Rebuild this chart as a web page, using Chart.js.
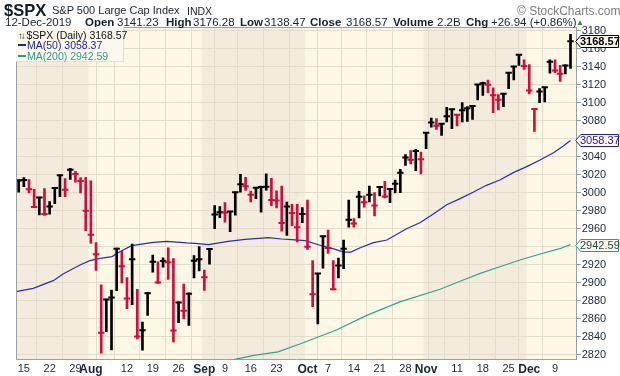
<!DOCTYPE html>
<html>
<head>
<meta charset="utf-8">
<script src="https://cdn.jsdelivr.net/npm/chart.js@4.4.1/dist/chart.umd.min.js"></script>
<style>
  html, body { margin:0; padding:0; background:#ffffff; }
  #wrap { position:relative; width:620px; height:376px; overflow:hidden; font-family:"Liberation Sans", Arial, sans-serif; color:#15222f; }
  #c { position:absolute; left:0; top:0; }
  .t { position:absolute; white-space:nowrap; line-height:1; }
  .b { font-weight:bold; }
  #legend { position:absolute; left:16px; top:27px; width:107px; height:34px; background:#fcf8ee; border-right:1px solid #e6dfcf; border-bottom:1px solid #e6dfcf; }
  .lg { position:absolute; left:2px; font-size:10.5px; white-space:nowrap; line-height:1; }
  .sw { display:inline-block; width:8px; height:2px; vertical-align:middle; margin-right:1px; position:relative; top:-1px; }
  .vb { position:absolute; left:580px; font-size:11px; line-height:1; white-space:nowrap; }
</style>
</head>
<body>
<div id="wrap">
  <canvas id="c" width="620" height="376"></canvas>

  <div class="t b" style="left:4px;top:2px;font-size:16.5px;color:#101c29;">$SPX</div>
  <div class="t" style="left:52px;top:5px;font-size:11px;">S&amp;P 500 Large Cap Index</div>
  <div class="t" style="left:187px;top:6px;font-size:10.5px;">INDX</div>
  <div class="t" style="left:517px;top:5px;font-size:12px;color:#7d7d7d;">© StockCharts.com</div>

  <div class="t" style="left:5px;top:17px;font-size:11.5px;">12-Dec-2019</div>
  <div class="t b" style="left:85px;top:17px;font-size:11.5px;">Open</div>
  <div class="t" style="left:117px;top:17px;font-size:11.5px;">3141.23</div>
  <div class="t b" style="left:166px;top:17px;font-size:11.5px;">High</div>
  <div class="t" style="left:193px;top:17px;font-size:11.5px;">3176.28</div>
  <div class="t b" style="left:240px;top:17px;font-size:11.5px;">Low</div>
  <div class="t" style="left:264px;top:17px;font-size:11.5px;">3138.47</div>
  <div class="t b" style="left:310px;top:17px;font-size:11.5px;">Close</div>
  <div class="t" style="left:346px;top:17px;font-size:11.5px;">3168.57</div>
  <div class="t b" style="left:393px;top:17px;font-size:11.5px;">Volume</div>
  <div class="t" style="left:437px;top:17px;font-size:11.5px;">2.2B</div>
  <div class="t b" style="left:466px;top:17px;font-size:11.5px;">Chg</div>
  <div class="t" style="left:491px;top:17px;font-size:11.5px;">+26.94 (+0.86%)</div>
  <div class="t" style="left:576px;top:19px;font-size:8px;color:#2f8a3a;">▲</div>

  <div id="legend">
    <div class="lg" style="top:3px;color:#111;"><span style="letter-spacing:-2px;font-size:9.5px;">↑↓</span> $SPX (Daily) 3168.57</div>
    <div class="lg" style="top:13px;color:#2323a8;"><span class="sw" style="background:#2323a8;"></span>MA(50) 3058.37</div>
    <div class="lg" style="top:23.5px;color:#2a9c8c;"><span class="sw" style="background:#2a9c8c;"></span>MA(200) 2942.59</div>
  </div>

  <div id="vb0" class="vb b" style="color:#000;">3168.57</div>
  <div id="vb1" class="vb" style="color:#1c1c8c;">3058.37</div>
  <div id="vb2" class="vb" style="color:#1d4d48;">2942.59</div>
</div>

<script>
// ---- data (trading days 12-Jul-2019 .. 12-Dec-2019) ----
const dates = [
 "Jul 12","Jul 15","Jul 16","Jul 17","Jul 18","Jul 19","Jul 22","Jul 23","Jul 24","Jul 25","Jul 26","Jul 29","Jul 30","Jul 31",
 "Aug 1","Aug 2","Aug 5","Aug 6","Aug 7","Aug 8","Aug 9","Aug 12","Aug 13","Aug 14","Aug 15","Aug 16","Aug 19","Aug 20","Aug 21","Aug 22","Aug 23","Aug 26","Aug 27","Aug 28","Aug 29","Aug 30",
 "Sep 3","Sep 4","Sep 5","Sep 6","Sep 9","Sep 10","Sep 11","Sep 12","Sep 13","Sep 16","Sep 17","Sep 18","Sep 19","Sep 20","Sep 23","Sep 24","Sep 25","Sep 26","Sep 27","Sep 30",
 "Oct 1","Oct 2","Oct 3","Oct 4","Oct 7","Oct 8","Oct 9","Oct 10","Oct 11","Oct 14","Oct 15","Oct 16","Oct 17","Oct 18","Oct 21","Oct 22","Oct 23","Oct 24","Oct 25","Oct 28","Oct 29","Oct 30","Oct 31",
 "Nov 1","Nov 4","Nov 5","Nov 6","Nov 7","Nov 8","Nov 11","Nov 12","Nov 13","Nov 14","Nov 15","Nov 18","Nov 19","Nov 20","Nov 21","Nov 22","Nov 25","Nov 26","Nov 27","Nov 29",
 "Dec 2","Dec 3","Dec 4","Dec 5","Dec 6","Dec 9","Dec 10","Dec 11","Dec 12"
];
const highs = [
 3015,3017,3015,3004,2995.5,3005,2990.5,3005.8,3019.8,3016,3027.5,3024,3017,3017.4,
 3013.6,2945,2898,2882,2892,2938.7,2935.2,2906,2943.3,2893,2856.7,2889.5,2931,2923.6,2928,2939,2927,2879.3,2898.8,2889,2930.5,2940.4,
 2914.4,2938,2985.9,2985,2989.4,2979.4,3000.9,3020.7,3017.3,3002.2,3006.2,3007.8,3021.2,3016.4,3002.4,3007.8,2989.8,2987.3,2987.3,2983.8,
 2992.2,2924.8,2910.7,2952.2,2958.9,2924.8,2927.8,2947.8,2992.2,2971.5,3001.8,2996.7,3007.8,3000.4,3006.3,3013,3004.8,3014.4,3026.3,3042.6,3047,3048.5,3045.5,
 3066.9,3083.3,3082.6,3077.4,3095.2,3093.1,3087.5,3100.3,3095.9,3096.9,3120.6,3123.3,3125.5,3116.7,3109.2,3110.7,3133.8,3140.6,3153.7,3147.8,
 3142.6,3093.5,3115.9,3117.6,3147.8,3147.8,3141.8,3142.5,3176.28
];
const lows = [
 3001,3007,3000,2984,2975.5,2975,2976.5,2988,2996,2996,3015,3012,3000,2958,
 2944,2914,2822,2846,2825.7,2891.5,2900,2871.5,2876,2838,2825.5,2864,2912,2899.6,2917.5,2904,2834.5,2856,2860,2853,2905.5,2913.3,
 2891.8,2921,2960.4,2972.5,2967.6,2957,2975.3,3000.9,3002.9,2990.1,2993.7,2978.6,3003.2,2985.9,2983.3,2957.7,2952.9,2963.7,2945.5,2967.1,
 2937.4,2873.7,2854.4,2916.6,2932.9,2892.2,2905.5,2915.9,2961.9,2961.9,2972.2,2984.1,2990,2974.4,2996.7,2994.4,2989.3,3000,3000.4,3030.7,3032.2,3024.8,3021.1,
 3049.3,3073,3070.7,3064,3078.9,3071.5,3074.4,3078.9,3079.6,3081.8,3103.3,3108.5,3111.5,3089.2,3092.2,3095.9,3115.9,3125.5,3141.8,3137.4,
 3110,3068.5,3100.3,3101.1,3133,3133.7,3124,3132.2,3138.47
];
const closes = [
 3013.77,3014.30,3004.04,2984.42,2995.11,2976.61,2985.03,3005.47,3019.56,3003.67,3025.86,3020.97,3013.18,2980.38,
 2953.56,2932.05,2844.74,2881.77,2883.98,2938.09,2918.65,2882.70,2926.32,2840.60,2847.60,2888.68,2923.65,2900.51,2924.43,2922.95,2847.11,2878.38,2869.16,2887.94,2924.58,2926.46,
 2906.27,2937.78,2976.00,2978.71,2978.43,2979.39,3000.93,3009.57,3007.39,2997.96,3005.70,3006.73,3006.79,2992.07,2991.78,2966.60,2984.87,2977.62,2961.79,2976.74,
 2940.25,2887.61,2910.63,2952.01,2938.79,2893.06,2919.40,2938.13,2970.27,2966.15,2995.68,2989.69,2997.95,2986.20,3006.72,2995.99,3004.52,3010.29,3022.55,3039.42,3036.89,3046.77,3037.56,
 3066.91,3078.27,3074.62,3076.78,3085.18,3093.08,3087.01,3091.84,3094.04,3096.63,3120.46,3122.03,3120.18,3108.46,3103.54,3110.29,3133.64,3140.52,3153.63,3140.98,
 3113.87,3093.20,3112.76,3117.43,3145.91,3135.96,3132.52,3141.63,3168.57
];
const prevClose = 2999.91; // close before the first bar

const ma50Idx = [-0.5,2.8,6.7,8.6,11.9,13.8,15.8,18.1,19.6,21.9,26.1,28.7,32.6,34.2,36.8,40.6,43.9,48.4,51.0,53.6,55.5,58.6,61.1,63.0,64.4,66.1,68.8,71.4,75.2,77.8,80.4,83.0,85.6,88.2,90.7,93.3,95.9,98.5,101.1,103.7,105.6,107];
const ma50Val = [2890.4,2894.1,2902.6,2910,2920,2924.8,2927.4,2929.3,2934.8,2941.5,2945.2,2946.3,2944.5,2944.1,2942.6,2946.3,2948.5,2950.4,2948.9,2947.8,2947.1,2941.6,2937.9,2934.4,2934.4,2938.9,2944.8,2947.8,2960.3,2967.0,2976.7,2987.0,2993.7,3001.1,3008.5,3014.4,3022.6,3029.3,3036.7,3044.8,3052.2,3058.37];
const ma200Idx = [41.0,45.6,50.3,54.9,61.7,67.5,73.9,81.7,86.2,89.5,93.3,97.2,101.1,104.9,107];
const ma200Val = [2814,2819.5,2823.5,2833,2848,2864,2879,2893,2903.3,2910.7,2918.1,2925.6,2932.2,2938.1,2942.59];

const yTickValues = [2820,2840,2860,2880,2900,2920,2940,2960,2980,3000,3020,3040,3060,3080,3100,3120,3140,3160,3180];
const xLabelIdx  = [1,6,11,14,21,26,31,36,40,45,50,56,60,65,70,75,79,85,90,95,99,104];
const xLabelText = ["15","22","29","Aug","12","19","26","Sep","9","16","23","Oct","7","14","21","28","Nov","11","18","25","Dec","9"];
const monthLabels = ["Aug","Sep","Oct","Nov","Dec"];
const weekStartIdx = [1,6,11,16,21,26,31,36,40,45,50,55,60,65,70,75,80,85,90,95,99,104];
const monthStartIdx = [0,14,36,56,79,99];

const lastValues = [3168.57, 3058.37, 2942.59];

// ---- styling ----
const UP = '#000000', DOWN = '#d40b3c';
const LIGHT_BG = '#fdf7e6', DARK_BG = '#f3ecdc', GRID = '#e3dccb', FRAME = '#98a2a6';
const X_MIN = -0.52, X_MAX = 108.2, Y_MIN = 2815, Y_MAX = 3184.4;

const barColors = closes.map((c, i) => c >= (i === 0 ? prevClose : closes[i - 1]) ? UP : DOWN);
const hlData = closes.map((c, i) => ({ x: i, y: [lows[i], highs[i]] }));
const closeData = closes.map((c, i) => ({ x: i, y: c }));
const ma50Data = ma50Idx.map((x, i) => ({ x, y: ma50Val[i] }));
const ma200Data = ma200Idx.map((x, i) => ({ x, y: ma200Val[i] }));
const labelMap = {};
xLabelIdx.forEach((v, i) => labelMap[v] = xLabelText[i]);
const tickIdx = Array.from(new Set([...xLabelIdx, ...weekStartIdx])).sort((a, b) => a - b);

const bgPlugin = {
  id: 'bg',
  beforeDraw(chart) {
    const { ctx, chartArea: a, scales: { x } } = chart;
    ctx.save();
    ctx.fillStyle = LIGHT_BG;
    ctx.fillRect(a.left, a.top, a.width, a.height);
    for (let i = 0; i < monthStartIdx.length; i++) {
      if (i % 2 !== 0) continue;
      const x0 = Math.max(a.left, x.getPixelForValue(monthStartIdx[i] - 0.5));
      const x1 = i + 1 < monthStartIdx.length ? x.getPixelForValue(monthStartIdx[i + 1] - 0.5) : a.right;
      ctx.fillStyle = DARK_BG;
      ctx.fillRect(x0, a.top, Math.min(a.right, x1) - x0, a.height);
    }
    ctx.restore();
  },
  afterDraw(chart) {
    const { ctx, chartArea: a, scales: { y } } = chart;
    ctx.save();
    ctx.strokeStyle = FRAME; ctx.lineWidth = 1;
    ctx.beginPath();
    ctx.moveTo(a.left + 0.5, a.bottom); ctx.lineTo(a.left + 0.5, a.top + 0.5); ctx.lineTo(a.right, a.top + 0.5);
    ctx.stroke();
    const boxStyles = [
      { stroke: '#000000', fill: '#fdf8ea' },
      { stroke: '#2323a8', fill: '#fdf8ea' },
      { stroke: '#2a9c8c', fill: '#fdf8ea' }
    ];
    lastValues.forEach((v, i) => {
      const py = Math.round(y.getPixelForValue(v)) + 0.5;
      const x0 = a.right - 1, x1 = 618.5, h = 6;
      ctx.beginPath();
      ctx.moveTo(x0, py);
      ctx.lineTo(x0 + 5, py - h);
      ctx.lineTo(x1, py - h);
      ctx.lineTo(x1, py + h);
      ctx.lineTo(x0 + 5, py + h);
      ctx.closePath();
      ctx.fillStyle = boxStyles[i].fill; ctx.fill();
      ctx.strokeStyle = boxStyles[i].stroke; ctx.lineWidth = 1; ctx.stroke();
      const el = document.getElementById('vb' + i);
      el.style.top = (py - 6) + 'px';
    });
    ctx.restore();
  }
};

new Chart(document.getElementById('c'), {
  type: 'bar',
  data: {
    datasets: [
      { type: 'line', data: ma200Data, borderColor: '#2ea593', borderWidth: 1.2, pointRadius: 0, tension: 0, order: 4 },
      { type: 'line', data: ma50Data, borderColor: '#2b2bb5', borderWidth: 1.2, pointRadius: 0, tension: 0, order: 3 },
      { type: 'bar', data: hlData, backgroundColor: barColors, borderWidth: 0, barThickness: 2, grouped: false, order: 2 },
      { type: 'line', data: closeData, showLine: false, pointStyle: 'line', pointRadius: 3.2, pointBorderWidth: 2,
        pointBorderColor: barColors, pointBackgroundColor: barColors, order: 1 }
    ]
  },
  options: {
    responsive: false,
    animation: false,
    devicePixelRatio: 1,
    layout: { padding: { left: 16, top: 27, right: 0, bottom: 0 } },
    plugins: { legend: { display: false }, tooltip: { enabled: false } },
    scales: {
      x: {
        type: 'linear', min: X_MIN, max: X_MAX, offset: false,
        afterBuildTicks: s => { s.ticks = tickIdx.map(v => ({ value: v })); },
        afterFit: s => { s.height = 16.5; },
        grid: { color: c => (c.tick && weekStartIdx.includes(c.tick.value)) ? GRID : 'rgba(0,0,0,0)', drawTicks: false, lineWidth: 1 },
        border: { color: FRAME },
        ticks: {
          autoSkip: false, maxRotation: 0, minRotation: 0, padding: 3,
          callback: v => labelMap[v] !== undefined ? labelMap[v] : '',
          color: '#16283a',
          font: c => (c.tick && monthLabels.includes(labelMap[c.tick.value]))
            ? { family: 'Liberation Sans', size: 12, weight: 'bold' }
            : { family: 'Liberation Sans', size: 11 }
        }
      },
      y: {
        position: 'right', min: Y_MIN, max: Y_MAX,
        afterBuildTicks: s => { s.ticks = yTickValues.map(v => ({ value: v })); },
        afterFit: s => { s.width = 43.3; },
        grid: { color: GRID, tickColor: '#8d979c', tickLength: 4, lineWidth: 1 },
        border: { color: FRAME },
        ticks: { callback: v => String(v), color: '#16283a', padding: 1, font: { family: 'Liberation Sans', size: 11 } }
      }
    }
  },
  plugins: [bgPlugin]
});
</script>
</body>
</html>
